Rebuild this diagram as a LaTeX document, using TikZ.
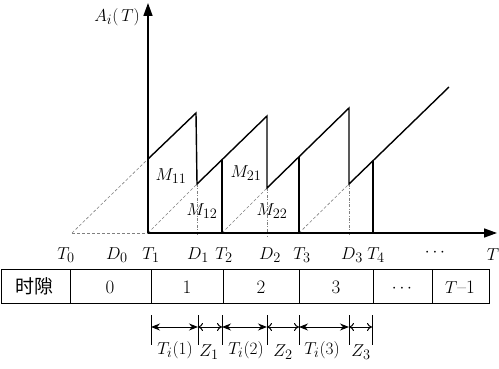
\documentclass[tikz,border=0pt]{standalone}
\usepackage{fontspec}
\newfontfamily\cjk{Noto Sans CJK SC}
\usetikzlibrary{arrows.meta}
\begin{document}
\begin{tikzpicture}[x=1pt,y=-1pt,
  lbl/.style={font=\fontsize{19}{21}\selectfont, inner sep=0pt},
  saw/.style={line width=1.4pt},
  axis/.style={line width=1.6pt, -{Triangle[length=13pt,width=9pt]}},
  guide/.style={gray, line width=0.6pt, dash pattern=on 3pt off 2pt},
  vguide/.style={gray, line width=0.6pt, dash pattern=on 3pt off 1.5pt on 0.8pt off 1.5pt},
  cellline/.style={line width=0.9pt},
  tick/.style={line width=0.9pt},
  dimT/.style={line width=1pt, {Stealth[length=9pt,width=7pt]}-{Stealth[length=9pt,width=7pt]}},
  dimZ/.style={line width=1pt, {To[length=5pt,width=8pt]}-{To[length=5pt,width=8pt]}},
  ]
\useasboundingbox (0,0) rectangle (499,369);

% key coordinates
\coordinate (O) at (148,233);
\coordinate (T0) at (72,233);
\coordinate (ytop) at (148,3);
\coordinate (xend) at (497,233);
\coordinate (p1) at (148,159);
\coordinate (p2) at (196,113);
\coordinate (p3) at (197,184);
\coordinate (p4) at (267,116);
\coordinate (p5) at (267,188);
\coordinate (p6) at (349,108);
\coordinate (p7) at (349,184);
\coordinate (p8) at (449,87);
\coordinate (b1) at (197,236);
\coordinate (b2) at (267,236);
\coordinate (b3) at (349,236);
\coordinate (T2b) at (222,233);
\coordinate (T2t) at (222,160);
\coordinate (T3b) at (299,233);
\coordinate (T3t) at (299,157);
\coordinate (T4b) at (373,233);
\coordinate (T4t) at (373,161);

% guides
\draw[guide] (T0) -- (O);
\draw[guide] (T0) -- (p1);
\draw[guide] (O) -- (p3);
\draw[guide] (T2b) -- (p5);
\draw[guide] (T3b) -- (p7);
\draw[vguide] (p3) -- (b1);
\draw[vguide] (p5) -- (b2);
\draw[vguide] (p7) -- (b3);

% sawtooth
\draw[saw, line join=miter] (p1) -- (p2) -- (p3) -- (p4) -- (p5) -- (p6) -- (p7) -- (p8);
\draw[saw] (T2t) -- (T2b);
\draw[saw] (T3t) -- (T3b);
\draw[saw] (T4t) -- (T4b);

% axes
\draw[axis] (O) -- (ytop);
\draw[axis] (O) -- (xend);

% labels
\node[lbl] (lA) at (117,17) {$A_i(\,T)$};
\node[lbl] (m11) at (171,176) {$M_{11}$};
\node[lbl] (m12) at (202,211) {$M_{12}$};
\node[lbl] (m21) at (246,173) {$M_{21}$};
\node[lbl] (m22) at (272,211) {$M_{22}$};

\node[lbl] (lT0) at (66,255) {$T_0$};
\node[lbl] (lD0) at (117,255) {$D_0$};
\node[lbl] (lT1) at (151,255) {$T_1$};
\node[lbl] (lD1) at (198,255) {$D_1$};
\node[lbl] (lT2) at (224,255) {$T_2$};
\node[lbl] (lD2) at (270,255) {$D_2$};
\node[lbl] (lT3) at (302,255) {$T_3$};
\node[lbl] (lD3) at (352,255) {$D_3$};
\node[lbl] (lT4) at (376,255) {$T_4$};
\node[lbl] (ldots) at (435,253) {$\cdots$};
\node[lbl] (lT) at (493,255) {$T$};

% table
\draw[cellline] (1,269) rectangle (489,303);
\foreach \x in {70,151,223,299,373,432} \draw[cellline] (\x,269) -- (\x,303);
\node[lbl] (c0) at (35,286) {\cjk 时隙};
\node[lbl] (c1) at (110,287) {0};
\node[lbl] (c2) at (187,287) {1};
\node[lbl] (c3) at (261,287) {2};
\node[lbl] (c4) at (336,287) {3};
\node[lbl] (c5) at (402,289) {$\cdots$};
\node[lbl] (c6) at (460,287) {$T$--1};

% dimension ticks
\foreach \x/\n in {151/a,198/b,222/c,267/d,299/e,349/f,372/g} {
  \coordinate (t\n) at (\x,327);
  \draw[tick] (\x,315) -- (\x,345);
}
\draw[dimT] (ta) -- (tb);
\draw[dimZ] (tb) -- (tc);
\draw[dimT] (tc) -- (td);
\draw[dimZ] (td) -- (te);
\draw[dimT] (te) -- (tf);
\draw[dimZ] (tf) -- (tg);

\node[lbl] (d1) at (175,350) {$T_i(1)$};
\node[lbl] (d2) at (209,352) {$Z_1$};
\node[lbl] (d3) at (246,350) {$T_i(2)$};
\node[lbl] (d4) at (283,352) {$Z_2$};
\node[lbl] (d5) at (322,350) {$T_i(3)$};
\node[lbl] (d6) at (361,352) {$Z_3$};
\end{tikzpicture}
\end{document}
